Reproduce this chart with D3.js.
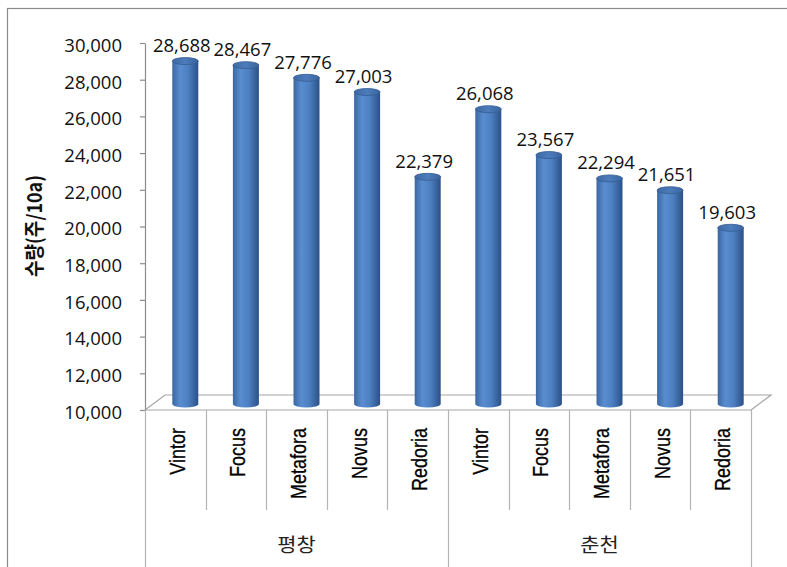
<!DOCTYPE html>
<html>
<head>
<meta charset="utf-8">
<script src="https://cdn.jsdelivr.net/npm/d3@7/dist/d3.min.js"></script>
<style>
  body { margin: 0; background: #fff; }
</style>
</head>
<body>
<div class="chart-div"></div>
<script>
//--------------------------- Data

var groups = ["평창", "춘천"];
var varieties = ["Vintor", "Focus", "Metafora", "Novus", "Redoria"];
var valuesPyeongchang = [28688, 28467, 27776, 27003, 22379];
var valuesChuncheon = [26068, 23567, 22294, 21651, 19603];
var yTicks = [10000, 12000, 14000, 16000, 18000, 20000, 22000, 24000, 26000, 28000, 30000];
var yTitle = "수량(주/10a)";

var bars = [];
varieties.forEach(function (v, i) { bars.push({ group: groups[0], name: v, value: valuesPyeongchang[i] }); });
varieties.forEach(function (v, i) { bars.push({ group: groups[1], name: v, value: valuesChuncheon[i] }); });

//--------------------------- SVG definition

var width = 787;
var height = 567;

var svg = d3.select("div.chart-div")
    .append("svg")
    .attr("width", width)
    .attr("height", height)
    .style("display", "block");

// outer chart border (right and bottom fall outside the picture)
svg.append("rect")
    .attr("x", 7.5).attr("y", 8.5)
    .attr("width", 800).attr("height", 600)
    .attr("fill", "none")
    .attr("stroke", "#8a8a8a")
    .attr("stroke-width", 1.2);

//--------------------------- Scales

var x = d3.scaleBand()
    .domain(d3.range(bars.length))
    .range([145, 751])
    .paddingInner(0).paddingOuter(0);

var y = d3.scaleLinear()
    .domain([10000, 30000])
    .range([410, 43]);

var depthX = 20, depthY = -15;   // floor depth
var barDX = 10, barDY = -6;      // bars stand mid-depth
var rx = 13, ry = 3.5;

//--------------------------- Gradients

var defs = svg.append("defs");
var grad = defs.append("linearGradient").attr("id", "cyl")
    .attr("x1", 0).attr("x2", 1).attr("y1", 0).attr("y2", 0);
grad.append("stop").attr("offset", "0%").attr("stop-color", "#3a67a2");
grad.append("stop").attr("offset", "30%").attr("stop-color", "#5a8dd0");
grad.append("stop").attr("offset", "60%").attr("stop-color", "#4d80c1");
grad.append("stop").attr("offset", "100%").attr("stop-color", "#2b5088");

var gradTop = defs.append("linearGradient").attr("id", "cyltop")
    .attr("x1", 0).attr("x2", 1).attr("y1", 0).attr("y2", 0);
gradTop.append("stop").attr("offset", "0%").attr("stop-color", "#3e6aa3");
gradTop.append("stop").attr("offset", "50%").attr("stop-color", "#4c7cba");
gradTop.append("stop").attr("offset", "100%").attr("stop-color", "#3a659e");

//--------------------------- Floor

var x0 = x.range()[0], x1 = x.range()[1], yb = y(10000);
svg.append("path")
    .attr("d", "M" + x0 + "," + yb + "L" + (x0 + depthX) + "," + (yb + depthY) +
        "L" + (x1 + depthX) + "," + (yb + depthY) + "L" + x1 + "," + yb)
    .attr("fill", "none")
    .attr("stroke", "#a6a6a6")
    .attr("stroke-width", 1.2);

//--------------------------- Y axis

var yAxis = svg.append("g")
    .attr("transform", "translate(" + x0 + ",0)")
    .call(d3.axisLeft(y).tickValues(yTicks).tickSize(5).tickSizeOuter(0).tickPadding(18)
        .tickFormat(d3.format(",")));
yAxis.select(".domain").attr("stroke", "#8c8c8c").attr("stroke-width", 1.2);
yAxis.selectAll(".tick line").attr("stroke", "#8c8c8c").attr("stroke-width", 1.2);
yAxis.selectAll(".tick text")
    .attr("font-family", "'Open Sans', sans-serif")
    .attr("font-size", "18.5px")
    .attr("fill", "#111")
    .attr("dy", "0.45em");

svg.append("text")
    .attr("transform", "translate(42,226) scale(1.12,1) rotate(-90)")
    .attr("text-anchor", "middle")
    .attr("font-family", "'Noto Sans CJK KR', sans-serif")
    .attr("font-weight", "bold")
    .attr("font-size", "18px")
    .attr("fill", "#111")
    .text(yTitle);

//--------------------------- X axis (two levels)

svg.append("line")
    .attr("x1", x0).attr("x2", x1).attr("y1", yb).attr("y2", yb)
    .attr("stroke", "#a6a6a6").attr("stroke-width", 1.2);

var seps = d3.range(bars.length + 1);
svg.selectAll("line.sep")
    .data(seps)
    .enter()
    .append("line")
    .attr("class", "sep")
    .attr("x1", function (d) { return Math.round(x0 + d * x.bandwidth()) + 0.5; })
    .attr("x2", function (d) { return Math.round(x0 + d * x.bandwidth()) + 0.5; })
    .attr("y1", yb)
    .attr("y2", function (d) { return d % varieties.length === 0 ? height : 510; })
    .attr("stroke", "#b4b4b4")
    .attr("stroke-width", 1.2);

svg.selectAll("text.cat")
    .data(bars)
    .enter()
    .append("text")
    .attr("class", "cat")
    .attr("transform", function (d, i) {
        return "translate(" + (x(i) + x.bandwidth() / 2 + 9.5) + ",428) scale(1.22,1) rotate(-90)";
    })
    .attr("text-anchor", "end")
    .attr("font-family", "'Liberation Sans', Arial, sans-serif")
    .attr("font-size", "18px")
    .attr("stroke", "#000")
    .attr("stroke-width", 0.25)
    .attr("fill", "#000")
    .text(function (d) { return d.name; });

svg.selectAll("text.grp")
    .data(groups)
    .enter()
    .append("text")
    .attr("class", "grp")
    .attr("transform", function (d, i) {
        var a = x(i * varieties.length), b = x((i + 1) * varieties.length - 1) + x.bandwidth();
        return "translate(" + ((a + b) / 2) + ",552) scale(1.1,1)";
    })
    .attr("text-anchor", "middle")
    .attr("font-family", "'Noto Sans CJK KR', sans-serif")
    .attr("font-size", "19px")
    .attr("fill", "#222")
    .text(function (d) { return d; });

//--------------------------- Cylinders

var barG = svg.selectAll("g.bar")
    .data(bars)
    .enter()
    .append("g")
    .attr("class", "bar");

function cx(i) { return x(i) + x.bandwidth() / 2 + barDX; }

barG.append("path")
    .attr("d", function (d, i) {
        var l = cx(i) - rx, r = cx(i) + rx;
        var top = y(d.value) + barDY, bot = yb + barDY;
        return "M" + l + "," + top + "L" + l + "," + bot +
            "A" + rx + "," + ry + " 0 0 0 " + r + "," + bot +
            "L" + r + "," + top + "Z";
    })
    .attr("fill", "url(#cyl)");

barG.append("ellipse")
    .attr("cx", function (d, i) { return cx(i); })
    .attr("cy", function (d) { return y(d.value) + barDY; })
    .attr("rx", rx)
    .attr("ry", ry)
    .attr("fill", "url(#cyltop)")
    .attr("stroke", "#345d94")
    .attr("stroke-width", 0.8);

barG.append("text")
    .attr("x", function (d, i) { return cx(i) - 3.5; })
    .attr("y", function (d) { return y(d.value) - 15; })
    .attr("text-anchor", "middle")
    .attr("font-family", "'Open Sans', sans-serif")
    .attr("font-size", "18.5px")
    .attr("fill", "#111")
    .text(function (d) { return d3.format(",")(d.value); });
</script>
</body>
</html>
